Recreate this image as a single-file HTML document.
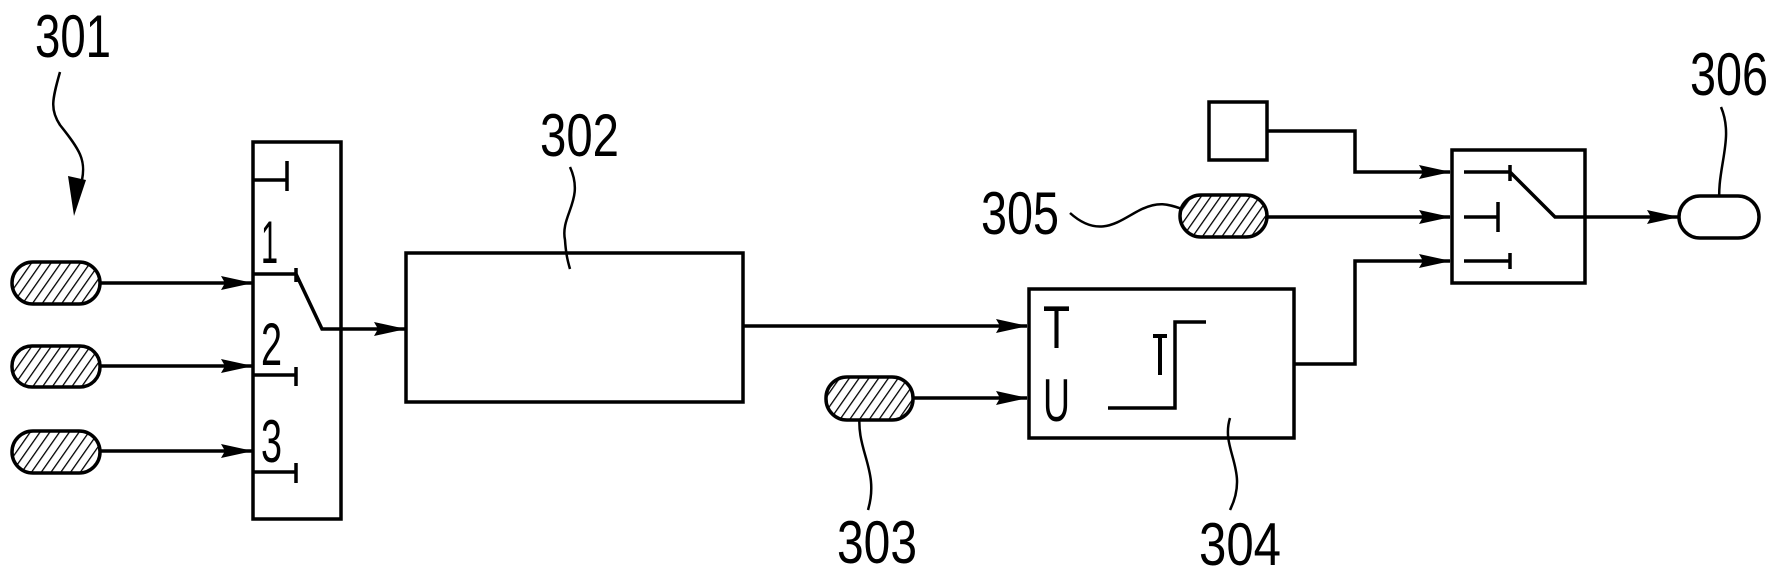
<!DOCTYPE html>
<html><head><meta charset="utf-8"><style>
html,body{margin:0;padding:0;background:#fff;}
svg{display:block;}
text{font-family:"Liberation Sans Narrow","Liberation Sans",sans-serif;font-size:60px;fill:#000;}
</style></head><body>
<svg width="1780" height="577" viewBox="0 0 1780 577" xmlns="http://www.w3.org/2000/svg">
<defs>
<pattern id="h" patternUnits="userSpaceOnUse" width="8" height="8" patternTransform="rotate(35)">
<rect width="8" height="8" fill="#fff"/><line x1="0" y1="0" x2="0" y2="8" stroke="#000" stroke-width="2.6"/>
</pattern>
<marker id="a" markerWidth="32" markerHeight="16" refX="31" refY="8" orient="auto" markerUnits="userSpaceOnUse" viewBox="0 0 32 16">
<path d="M0,1 L32,8 L0,15 L4,8 Z" fill="#000"/>
</marker>
</defs>
<g fill="none" stroke="#000" stroke-width="3.5">
<path d="M60,72 C52,100 50,110 60,125 C80,150 86,160 82,180 L78,195" stroke-width="2.5"/>
<path d="M570,167 C585,200 560,215 565,240 C566,255 568,262 570,269" stroke-width="2.5"/>
<path d="M860,412 C855,450 880,470 868,510" stroke-width="2.5"/>
<path d="M1230,418 C1220,450 1250,470 1230,510" stroke-width="2.5"/>
<path d="M1070,213 C1100,240 1120,220 1140,210 C1160,200 1170,205 1185,210" stroke-width="2.5"/>
<path d="M1721,107 C1735,140 1715,170 1720,208" stroke-width="2.5"/>
<line x1="101" y1="283" x2="252" y2="283" marker-end="url(#a)"/>
<line x1="101" y1="366" x2="252" y2="366" marker-end="url(#a)"/>
<line x1="101" y1="451" x2="252" y2="451" marker-end="url(#a)"/>
<rect x="253" y="142" width="88" height="377"/>
<path d="M253,180 H287 M287,161 V191"/>
<path d="M253,274 H296 L322,329 H405" marker-end="url(#a)"/>
<path d="M296,268 V282"/>
<path d="M253,375 H296 M296,367 V386"/>
<path d="M253,472 H296 M296,463 V483"/>
<rect x="406" y="253" width="337" height="149"/>
<line x1="743" y1="326" x2="1027" y2="326" marker-end="url(#a)"/>
<rect x="1029" y="289" width="265" height="149"/>
<line x1="913" y1="398" x2="1027" y2="398" marker-end="url(#a)"/>
<path d="M1108,408 H1175 V322 H1206"/>
<path d="M1160,336 V375 M1153,336 H1167" stroke-width="4"/>
<path d="M1294,364 H1355 V261 H1450" marker-end="url(#a)"/>
<rect x="1209" y="102" width="58" height="58"/>
<path d="M1267,131 H1355 V172 H1450" marker-end="url(#a)"/>
<line x1="1267" y1="217" x2="1450" y2="217" marker-end="url(#a)"/>
<rect x="1452" y="150" width="133" height="133"/>
<path d="M1464,172 H1510 M1510,165 V181"/>
<path d="M1510,172 L1555,217 H1678" marker-end="url(#a)"/>
<path d="M1464,217 H1498 M1498,202 V232"/>
<path d="M1464,261 H1510 M1510,253 V269"/>
<rect x="12" y="262" width="88" height="42" rx="21" fill="url(#h)"/>
<rect x="12" y="346" width="88" height="41" rx="20" fill="url(#h)"/>
<rect x="12" y="431" width="88" height="42" rx="21" fill="url(#h)"/>
<rect x="826" y="377" width="87" height="43" rx="21" fill="url(#h)"/>
<rect x="1180" y="195" width="87" height="42" rx="21" fill="url(#h)"/>
<rect x="1679" y="196" width="80" height="42" rx="21" fill="#fff"/>
</g>
<path d="M68,176 L86,180 L74,216 Z" fill="#000"/>
<text x="35" y="57" textLength="76" lengthAdjust="spacingAndGlyphs">301</text>
<text x="540" y="156" textLength="79" lengthAdjust="spacingAndGlyphs">302</text>
<text x="837" y="563" textLength="80" lengthAdjust="spacingAndGlyphs">303</text>
<text x="1199" y="565" textLength="82" lengthAdjust="spacingAndGlyphs">304</text>
<text x="981" y="234" textLength="78" lengthAdjust="spacingAndGlyphs">305</text>
<text x="1690" y="95" textLength="78" lengthAdjust="spacingAndGlyphs">306</text>
<text x="261" y="263" textLength="17" lengthAdjust="spacingAndGlyphs">1</text>
<text x="261" y="365" textLength="21" lengthAdjust="spacingAndGlyphs">2</text>
<text x="261" y="462" textLength="21" lengthAdjust="spacingAndGlyphs">3</text>
<text x="1043" y="348" textLength="27" lengthAdjust="spacingAndGlyphs">T</text>
<text x="1043" y="421" textLength="27" lengthAdjust="spacingAndGlyphs">U</text>
</svg>
</body></html>
